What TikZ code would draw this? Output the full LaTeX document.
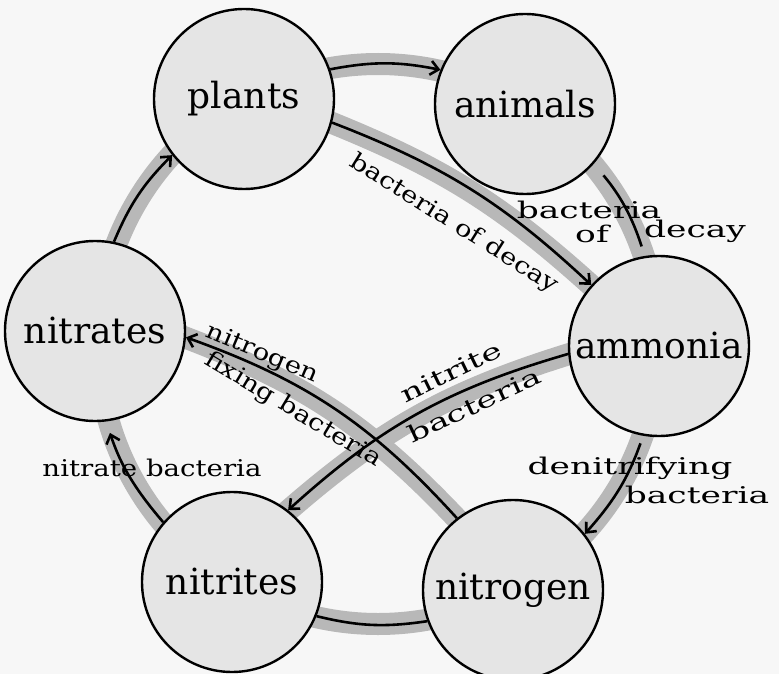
\documentclass[tikz,border=0pt]{standalone}
\usepackage{fontspec}
\setmainfont{DejaVu Serif}
\newfontfamily\handwide{DejaVu Serif}[FakeStretch=1.5]
\newfontfamily\handnarrow{DejaVu Serif}[FakeStretch=1.2]
\usetikzlibrary{arrows.meta}
\usetikzlibrary{backgrounds}

\begin{document}
\begin{tikzpicture}[
    x=1pt, y=-1pt,
    >={Straight Barb[length=8pt,width=14pt]},
    stage/.style={circle, draw, line width=2.4pt, fill=black!10, minimum size=180pt, inner sep=0pt, font=\fontsize{36}{40}\selectfont},
    band/.style={line width=22pt, draw=black!28},
    flow/.style={line width=2.6pt},
    lbl/.style={font=\handwide\fontsize{23}{26}\selectfont, inner sep=0pt},
    lbln/.style={font=\handnarrow\fontsize{23}{26}\selectfont, inner sep=0pt}
]
\useasboundingbox (0,0) rectangle (779,674);
\coordinate (hub) at (378,344);

% the six stages of the cycle
\node[stage] (plants) at (244,99) {plants};
\node[stage] (animals) at (525,104) {animals};
\node[stage] (ammonia) at (659,346) {ammonia};
\node[stage] (nitrogen) at (513,590) {nitrogen};
\node[stage] (nitrites) at (232,582) {nitrites};
\node[stage] (nitrates) at (95,331) {nitrates};

% grey tracks behind the circles
\begin{scope}[on background layer]
\fill[black!3] (0,0) rectangle (779,674);
\draw[band] (hub) circle (280pt);
\draw[band, shorten <=-40pt, shorten >=-40pt] (plants.-15) to[bend left=11] (ammonia.138);
\draw[band, shorten <=-40pt, shorten >=-40pt] (ammonia.185) to[bend right=13] (nitrites.52);
\draw[band, shorten <=-40pt, shorten >=-40pt] (nitrogen.128) to[bend right=14] (nitrates.-4);
\end{scope}

% round the ring
\draw[flow,->] (plants.19) to[bend left=11] (animals.158);
\draw[flow,shorten <=15pt,shorten >=10pt] (animals.319) to[bend left=11] (ammonia.99);
\draw[flow,->,shorten <=8pt] (ammonia.260) to[bend left=11] (nitrogen.38);
\draw[flow] (nitrogen.200) to[bend left=11] (nitrites.338);
\draw[flow,->,shorten >=12pt] (nitrites.139) to[bend left=11] (nitrates.277);
\draw[flow,->] (nitrates.78) to[bend left=11] (plants.218);

% across the ring
\draw[flow,->] (plants.-15) to[bend left=11] (ammonia.138);
\draw[flow,->] (ammonia.185) to[bend right=13] (nitrites.52);
\draw[flow,->] (nitrogen.128) to[bend right=14] (nitrates.-4);

% labels
\node[lbln, rotate=-32] (decay1) at (454,224) {bacteria of decay};
\node[lbl] (decay2a) at (589,210) {bacteria};
\node[lbl] (decay2b) at (592,234) {of};
\node[lbl] (decay2c) at (695,231) {decay};
\node[lbl] (denit1) at (630,468) {denitrifying};
\node[lbl] (denit2) at (697,495) {bacteria};
\node[lbl, rotate=26] (nitrite1) at (451,372) {nitrite};
\node[lbl, rotate=25] (nitrite2) at (474,405) {bacteria};
\node[lbln, rotate=-23] (fixing1) at (262,354) {nitrogen};
\node[lbln, rotate=-31] (fixing2) at (293,410) {fixing bacteria};
\node[lbln] (nitrate1) at (152,468) {nitrate bacteria};
\end{tikzpicture}
\end{document}
